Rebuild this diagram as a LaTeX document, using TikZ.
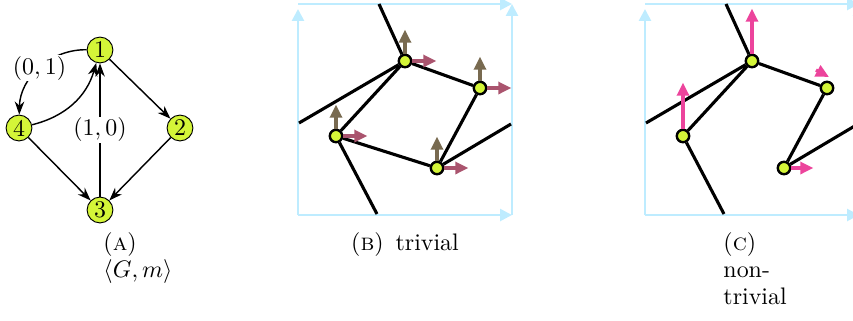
\documentclass[tikz,border=0pt]{standalone}
\usepackage{amsmath,amssymb}
\usepackage{xcolor}
\usepackage{tikz}
\usetikzlibrary{arrows.meta,positioning}

\definecolor{vgreen}{RGB}{212,245,56}
\definecolor{cellblue}{RGB}{190,236,255}
\definecolor{vecbrown}{RGB}{120,106,80}
\definecolor{vecmauve}{RGB}{170,84,110}
\definecolor{vecpink}{RGB}{236,68,156}

\begin{document}
\begin{tikzpicture}[x=0.4184pt,y=-0.4184pt,
vtx/.style={circle,draw,thin,fill=vgreen,inner sep=0pt,minimum size=10.8pt},
site/.style={circle,draw,line width=1pt,fill=vgreen,inner sep=0pt,minimum size=5.2pt},
arr/.style={-{Stealth[length=5.5pt,width=4pt]},semithick},
lbl/.style={fill=white,inner sep=0.5pt},
bond/.style={line width=1.3pt},
cell/.style={-{Triangle[length=5pt,width=5pt]},line width=1.1pt,cellblue},
vec/.style={-{Triangle[length=5.5pt,width=5pt]},line width=1.4pt},
captext/.style={align=left,inner sep=0pt,font=\fontsize{10}{11.4}\selectfont}]
\useasboundingbox (0,0) rectangle (853,320);
\clip (0,0) rectangle (853,320);
% (a) graph with its labels
\node[vtx] (v1) at (100,50) {1};
\node[vtx] (v2) at (180,128) {2};
\node[vtx] (v3) at (100,210) {3};
\node[vtx] (v4) at (19,128) {4};
\draw[arr] (v1)--(v2);
\draw[arr] (v2)--(v3);
\draw[arr] (v4)--(v3);
\draw[arr] (v3)-- node[lbl] {$(1,0)$} (v1);
\draw[arr,bend right=30] (v4) to (v1);
\draw[arr,bend right=45] (v1) to node[lbl] {$(0,1)$} (v4);
\node[captext,anchor=north west] (capa) at (103,232) {(\textsc{a})\\$\langle G,m\rangle$};
% unit cells of (b) and (c)
\foreach \ox in {298,645}{
  \draw[cell] (\ox,215) -- ++(214,0);
  \draw[cell] (\ox,215) -- (\ox,9);
  \draw[cell] (\ox,4) -- ++(214,0);
  \draw[cell] (\ox+214,215) -- (\ox+214,4);
}
% (b) trivial
\node[site] (b1) at (405,61) {};
\node[site] (b2) at (480,88) {};
\node[site] (b3) at (437,168) {};
\node[site] (b4) at (336,136) {};
\coordinate (bt) at (379,4);
\coordinate (bl) at (299,123);
\coordinate (bb) at (377,214);
\coordinate (br) at (511,124);
\draw[bond] (b1)--(b2) (b2)--(b3) (b3)--(b4) (b4)--(b1)
  (b1)--(bt) (b1)--(bl) (b4)--(bb) (b3)--(br);
\foreach \s in {b1,b2,b3,b4}{
  \draw[vec,vecbrown] (\s.north) -- ++(0,-24);
  \draw[vec,vecmauve] (\s.east) -- ++(24,0);
}
\node[captext,anchor=base] (capb) at (405,250) {(\textsc{b})\enspace trivial};
% (c) non-trivial
\node[site] (c1) at (752,61) {};
\node[site] (c2) at (827,88) {};
\node[site] (c3) at (784,168) {};
\node[site] (c4) at (683,136) {};
\coordinate (ct) at (726,4);
\coordinate (cl) at (646,123);
\coordinate (cb) at (724,214);
\coordinate (cr) at (858,124);
\draw[bond] (c1)--(c2) (c2)--(c3) (c4)--(c1)
  (c1)--(ct) (c1)--(cl) (c4)--(cb) (c3)--(cr);
\draw[vec,vecpink] (c1.north) -- ++(0,-45);
\draw[vec,vecpink] (c4.north) -- ++(0,-46);
\draw[vec,vecpink] (c3.east) -- ++(22,0);
\draw[vec,vecpink] ([shift={(-11,-18)}]c2.center) -- ++(13,7);
\node[captext,anchor=north west] (capc) at (723,232) {(\textsc{c})\\non-\\trivial};
\end{tikzpicture}
\end{document}
